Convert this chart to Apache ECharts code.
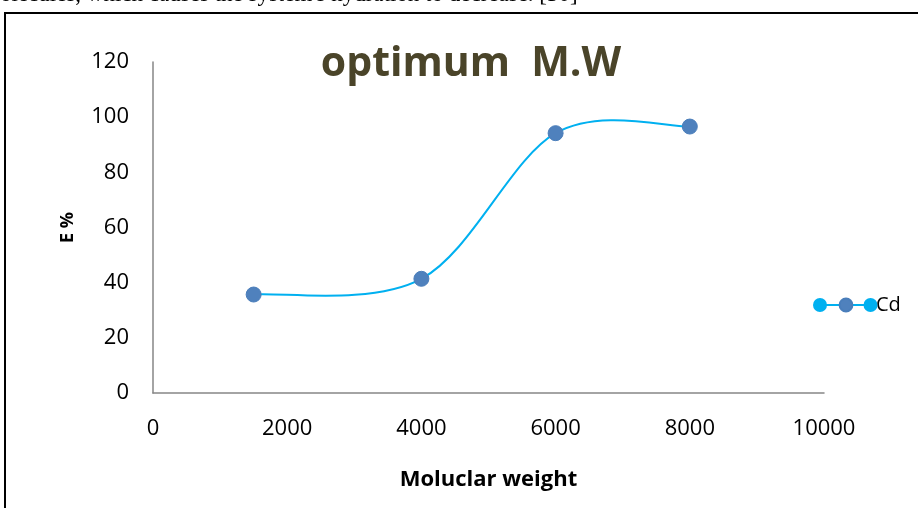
<!DOCTYPE html>
<html><head><meta charset="utf-8">
<script src="https://cdn.jsdelivr.net/npm/echarts@6/dist/echarts.min.js"></script>
<style>html,body{margin:0;padding:0;background:#fff}#c{width:918px;height:508px}</style>
</head><body><div id="c"></div>
<script>
const molWeights = [1500, 4000, 6000, 8000];
const eValues = [35.7, 41.4, 94.2, 96.6];
const seriesName = 'Cd';
const titleText = 'optimum  M.W';
const xName = 'Moluclar weight';
const yName = 'E %';
const docText = "olecules, which causes the system's hydration to decrease. [30]";

const chart = echarts.init(document.getElementById('c'), null, {renderer: 'canvas'});
const axisFont = 'Open Sans';
const pts = molWeights.map((x, i) => [x, eValues[i]]);

// Excel-style smoothed line segment (cardinal spline, tension 1/6) between consecutive points
function renderSmooth(params, api) {
  const i = params.dataIndex;
  const n = pts.length;
  if (i >= n - 1) return null;
  const c = k => api.coord(pts[Math.max(0, Math.min(n - 1, k))]);
  const p0 = c(i - 1), p1 = c(i), p2 = c(i + 1), p3 = c(i + 2);
  const t = 1 / 6;
  return {
    type: 'bezierCurve',
    shape: {
      x1: p1[0], y1: p1[1], x2: p2[0], y2: p2[1],
      cpx1: p1[0] + (p2[0] - p0[0]) * t, cpy1: p1[1] + (p2[1] - p0[1]) * t,
      cpx2: p2[0] - (p3[0] - p1[0]) * t, cpy2: p2[1] - (p3[1] - p1[1]) * t
    },
    style: {stroke: '#00B0F0', lineWidth: 2, fill: null},
    silent: true
  };
}

chart.setOption({
  animation: false,
  backgroundColor: '#fff',
  title: {text: titleText, left: 466, top: 39, textAlign: 'center',
    textStyle: {fontFamily: axisFont, fontWeight: 'bold', fontSize: 41, color: '#4a4429'}},
  grid: {left: 153, right: 94, top: 62, bottom: 115},
  xAxis: {type: 'value', min: 0, max: 10000, interval: 2000,
    name: xName, nameLocation: 'middle', nameGap: 76,
    nameTextStyle: {fontFamily: axisFont, fontWeight: 'bold', fontSize: 22, color: '#000'},
    axisLine: {lineStyle: {color: '#868686', width: 1.5}}, axisTick: {show: false},
    splitLine: {show: false},
    axisLabel: {fontFamily: axisFont, fontSize: 22, color: '#000', margin: 25,
      formatter: v => String(v)}},
  yAxis: {type: 'value', min: 0, max: 120, interval: 20,
    name: yName, nameLocation: 'middle', nameGap: 76, nameRotate: 90,
    nameTextStyle: {fontFamily: axisFont, fontWeight: 'bold', fontSize: 18, color: '#000'},
    axisLine: {show: true, lineStyle: {color: '#868686', width: 1.5}}, axisTick: {show: false},
    splitLine: {show: false},
    axisLabel: {fontFamily: axisFont, fontSize: 22, color: '#000', margin: 24}},
  legend: {left: 811, top: 290, itemWidth: 58, itemHeight: 16, itemGap: 0,
    lineStyle: {color: '#00B0F0', width: 2, opacity: 1},
    textStyle: {fontFamily: axisFont, fontSize: 20, color: '#000', padding: [0,0,0,-4]},
    data: [seriesName]},
  graphic: [
    {type: 'text', left: 0, top: -17, style: {text: docText, font: '23px "Liberation Serif"', fill: '#000'}},
    {type: 'rect', shape: {x: 5, y: 13, width: 940, height: 520}, style: {fill: 'none', stroke: '#000', lineWidth: 2}, silent: true},
    {type: 'circle', shape: {cx: 820, cy: 305, r: 7}, style: {fill: '#00B0F0'}, z: 100},
    {type: 'circle', shape: {cx: 870.5, cy: 305, r: 7}, style: {fill: '#00B0F0'}, z: 100}
  ],
  series: [{
    type: 'custom', data: pts, renderItem: renderSmooth, clip: false, z: 1,
    encode: {x: 0, y: 1}
  }, {
    name: seriesName, type: 'line',
    data: pts, z: 2,
    symbol: 'circle', symbolSize: 15,
    lineStyle: {color: '#00B0F0', width: 2, opacity: 0},
    itemStyle: {color: '#4F81BD', borderColor: '#4A7EBB', borderWidth: 1}
  }]
});
</script></body></html>
